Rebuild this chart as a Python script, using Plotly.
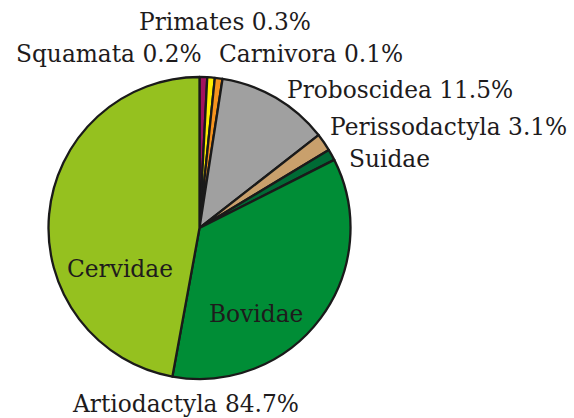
import plotly.graph_objects as go

W, H = 574, 418

categories = ["Squamata", "Primates", "Carnivora", "Proboscidea",
              "Perissodactyla", "Suidae", "Bovidae", "Cervidae"]
values = [0.82, 0.8, 0.82, 12.0, 1.9, 1.2, 35.3, 47.1]
colors = ["#a3115e", "#ffed00", "#f7941d", "#a0a0a0",
          "#c9a06c", "#006b35", "#008d36", "#95c11f"]

label_texts = ["Primates 0.3%", "Squamata 0.2%", "Carnivora 0.1%",
               "Proboscidea 11.5%", "Perissodactyla 3.1%", "Suidae",
               "Cervidae", "Bovidae", "Artiodactyla 84.7%"]
label_px = [(225, 22), (109, 53), (311, 53), (400, 89), (448, 127),
            (389, 159), (120, 268), (256, 313), (185, 403)]

cx, cy, r = 199.5, 228, 151

fig = go.Figure(go.Pie(
    labels=categories, values=values, sort=False, direction="clockwise",
    rotation=0, textinfo="none", hoverinfo="label+percent",
    marker=dict(colors=colors, line=dict(color="#1a1a1a", width=2.3)),
    domain=dict(x=[(cx - r) / W, (cx + r) / W],
                y=[(H - cy - r) / H, (H - cy + r) / H]),
    showlegend=False,
))

for t, (px, py) in zip(label_texts, label_px):
    fig.add_annotation(text=t, x=px / W, y=1 - py / H, xref="paper", yref="paper",
                       showarrow=False, xanchor="center", yanchor="middle",
                       font=dict(family="DejaVu Serif", size=23.3, color="#1e1b1c"))

fig.update_layout(width=W, height=H, margin=dict(l=0, r=0, t=0, b=0),
                  paper_bgcolor="white", plot_bgcolor="white")
fig.write_html("out.html", config={"displayModeBar": False},
               post_script="document.body.style.margin='0';document.body.style.overflow='hidden';")
